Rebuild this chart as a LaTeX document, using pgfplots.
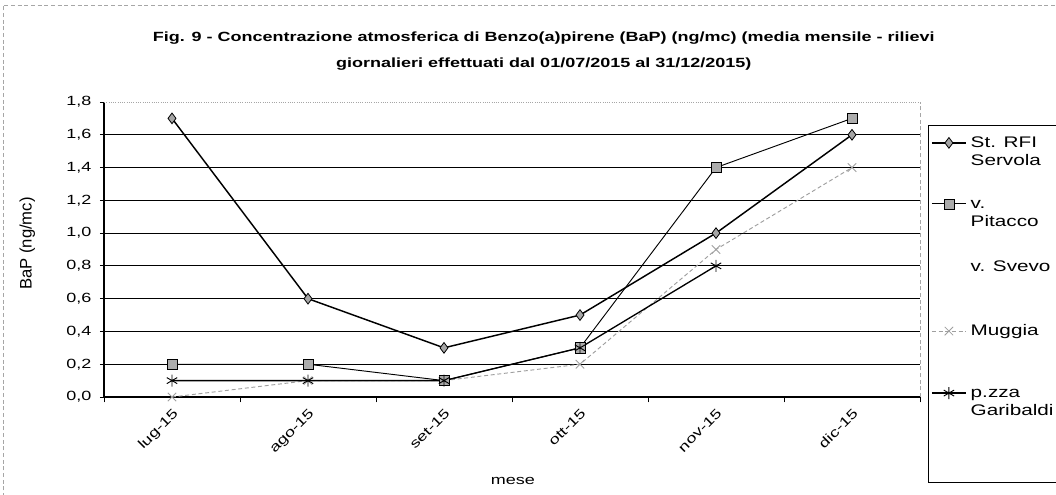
\documentclass[border=0pt]{standalone}
\usepackage{fontspec}
\setmainfont[FakeStretch=1.35]{Liberation Sans}
\newfontfamily\plainsans{Liberation Sans}
\usepackage{pgfplots}
\pgfplotsset{compat=1.18}

% 1 px of the reference = 0.75pt
\begin{document}
\begin{tikzpicture}
\useasboundingbox (-78pt,-72.75pt) rectangle (714pt,297.75pt);
\draw[gray!70, densely dashed, line width=0.4pt] (-75.75pt,-80pt) -- (-75.75pt,294pt) -- (720pt,294pt);
\begin{axis}[
    scale only axis,
    width=612pt, height=221.25pt,
    xmin=-0.5, xmax=5.5,
    ymin=0, ymax=1.8,
    axis x line*=bottom, axis y line*=left,
    axis line style={-, black, line width=0.8pt},
    xtick={0,...,5},
    xticklabels={lug-15,ago-15,set-15,ott-15,nov-15,dic-15},
    x tick label style={rotate=45, anchor=north east, font=\fontsize{10}{12}\selectfont},
    major x tick style={draw=none},
    minor xtick={-0.5,0.5,...,5.5},
    minor x tick style={black, line width=0.6pt},
    minor tick length=4pt,
    ytick={0,0.2,...,1.61},
    extra y ticks={1.8},
    extra y tick style={major grid style={gray!70, densely dotted, line width=0.6pt}},
    y tick label style={font=\fontsize{10}{12}\selectfont, xshift=-3pt},
    yticklabel style={/pgf/number format/.cd, fixed, fixed zerofill, precision=1, use comma, assume math mode=true},
    tick align=outside,
    major tick length=3pt,
    ytick style={black, line width=0.6pt},
    ymajorgrids,
    major grid style={black, line width=0.7pt},
    ylabel={BaP (ng/mc)},
    ylabel style={at={(axis description cs:-0.094,0.52)}, anchor=center, font=\plainsans\fontsize{12.5}{14}\selectfont},
    xlabel={mese},
    xlabel style={at={(axis description cs:0.501,-0.285)}, anchor=center, font=\fontsize{10}{12}\selectfont},
    title={\textbf{Fig. 9 - Concentrazione atmosferica di Benzo(a)pirene (BaP) (ng/mc) (media mensile - rilievi}\\\textbf{giornalieri effettuati dal 01/07/2015 al 31/12/2015)}},
    title style={at={(axis description cs:0.539,1.146)}, anchor=center, align=center, font=\fontsize{10}{19.5}\selectfont},
    legend cell align=left,
    legend style={at={(axis description cs:1.0098,0.922)}, anchor=north west,
        draw=black, line width=0.7pt, fill=white,
        font=\fontsize{11.5}{13.5}\selectfont,
        row sep=22.5pt, column sep=2pt, inner xsep=2pt, inner ysep=7.5pt,
        nodes={align=left, inner sep=1pt},
        cells={anchor=base west}},
    % every entry has two lines and sits on its last one: raise the sample to the first
    legend image code/.code={
        \draw[mark repeat=2, mark phase=2] plot coordinates {(0cm,17pt) (0.45cm,17pt) (0.9cm,17pt)};
    },
    clip=false,
]
% St. RFI Servola
\addplot[black, line width=1.1pt, mark=diamond*, mark size=4pt,
    mark options={solid, fill=gray!70, draw=black, line width=0.6pt}]
    coordinates {(0,1.7) (1,0.6) (2,0.3) (3,0.5) (4,1.0) (5,1.6)};
\addlegendentry{St. RFI\\Servola}
% v. Pitacco
\addplot[black, line width=0.7pt, mark=square*, mark size=3.8pt,
    mark options={solid, fill=gray!65, draw=black, line width=0.5pt}]
    coordinates {(0,0.2) (1,0.2) (2,0.1) (3,0.3) (4,1.4) (5,1.7)};
\addlegendentry{v.\\Pitacco}
% v. Svevo (no data shown)
\addlegendimage{empty legend}
\addlegendentry{v. Svevo\\\mbox{}}
% Muggia
\addplot[gray!75, densely dashed, line width=0.7pt, mark=x, mark size=4.5pt,
    mark options={solid, gray!75, line width=0.6pt}]
    coordinates {(0,0.0) (1,0.1) (2,0.1) (3,0.2) (4,0.9) (5,1.4)};
\addlegendentry{Muggia\\\mbox{}}
% p.zza Garibaldi
\addplot[black, line width=1pt, mark=asterisk, mark size=4.5pt,
    mark options={solid, black, line width=0.7pt}]
    coordinates {(0,0.1) (1,0.1) (2,0.1) (3,0.3) (4,0.8)};
\addlegendentry{p.zza\\Garibaldi}
\addlegendimage{empty legend}
\addlegendentry{\rule{0pt}{14pt}}
\draw[gray!70, densely dashed, line width=0.5pt] (rel axis cs:1,0) -- (rel axis cs:1,1);
\end{axis}
\end{tikzpicture}
\end{document}
